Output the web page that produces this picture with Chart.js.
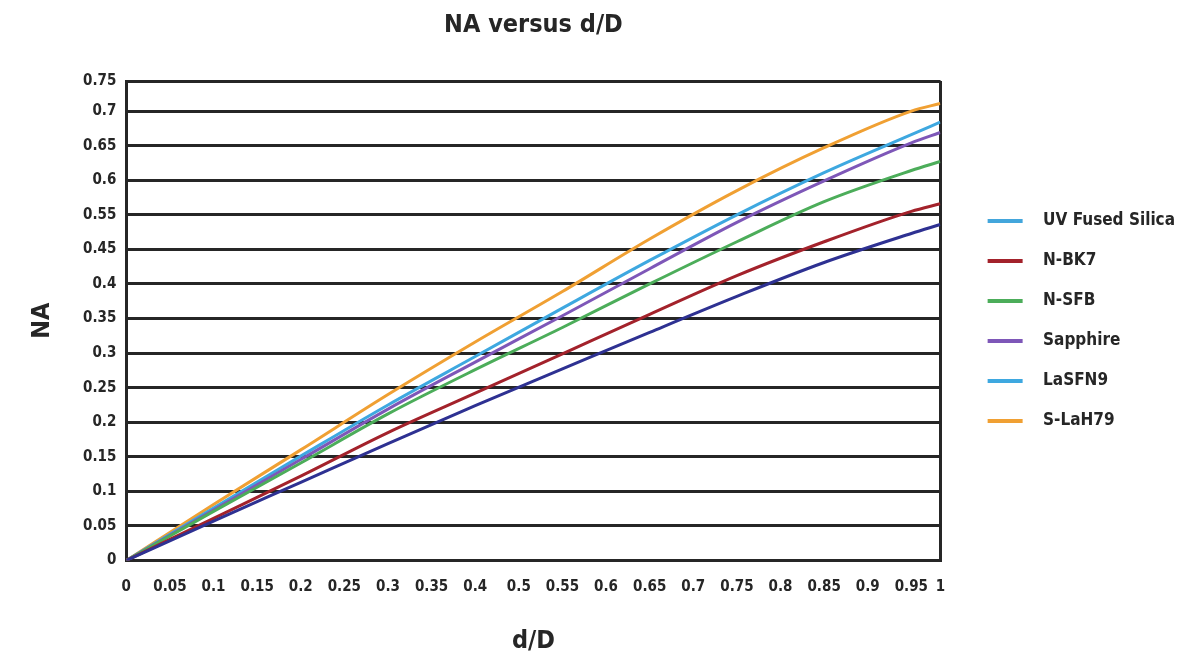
<!DOCTYPE html>
<html>
<head>
<meta charset="utf-8">
<script src="https://cdn.jsdelivr.net/npm/chart.js@4.4.1/dist/chart.umd.min.js"></script>
<style>
html,body{margin:0;padding:0;background:#ffffff;}
#wrap{width:1191px;height:659px;position:relative;}
</style>
</head>
<body>
<div id="wrap"><canvas id="c"></canvas></div>
<script>
// ---- data (axis units as drawn; tick labels as printed on the original) ----
const seriesNames = ['UV Fused Silica', 'N-BK7', 'N-SFB', 'Sapphire', 'LaSFN9', 'S-LaH79'];
const xValues      = [0, 0.1, 0.2, 0.3, 0.4, 0.5, 0.6, 0.7, 0.8, 0.9, 0.933];
const uvFusedSilica = [0, 0.057, 0.113, 0.169, 0.224, 0.277, 0.330, 0.382, 0.431, 0.473, 0.486];
const nBK7          = [0, 0.061, 0.122, 0.185, 0.242, 0.299, 0.356, 0.412, 0.461, 0.505, 0.516];
const nSFB          = [0, 0.071, 0.141, 0.212, 0.276, 0.337, 0.400, 0.461, 0.519, 0.564, 0.577];
const sapphire      = [0, 0.073, 0.146, 0.219, 0.287, 0.354, 0.422, 0.489, 0.549, 0.604, 0.619];
const laSFN9        = [0, 0.076, 0.151, 0.225, 0.295, 0.365, 0.434, 0.500, 0.561, 0.616, 0.634];
const sLaH79        = [0, 0.081, 0.160, 0.240, 0.316, 0.389, 0.465, 0.535, 0.597, 0.650, 0.661];
const xTickLabels = ['0','0.05','0.1','0.15','0.2','0.25','0.3','0.35','0.4','0.5','0.55','0.6','0.65','0.7','0.75','0.8','0.85','0.9','0.95','1'];
const yTickLabels = ['0','0.05','0.1','0.15','0.2','0.25','0.3','0.35','0.4','0.45','0.55','0.6','0.65','0.7','0.75'];

const lineColors   = ['#2e3192', '#a3222b', '#4cad5a', '#7e57b8', '#3ea8e0', '#f0a033'];
const legendColors = ['#43a6dc', '#a3222b', '#4cad5a', '#7e57b8', '#3ea8e0', '#f0a033'];
const seriesValues = [uvFusedSilica, nBK7, nSFB, sapphire, laSFN9, sLaH79];

const X_STEP = 0.05, X_MAX = 0.9335;
const Y_STEP = 0.05, Y_MAX = 0.6935;
const FONT = "'Liberation Sans Narrow','DejaVu Sans Condensed','Arial Narrow',sans-serif";
const INK = '#262626';

function legendMarker(color) {
  const cv = document.createElement('canvas');
  cv.width = 71; cv.height = 4;
  const g = cv.getContext('2d');
  g.fillStyle = color;
  g.fillRect(24, 0, 35, 4);
  return cv;
}
const markers = legendColors.map(legendMarker);

const datasets = seriesNames.map((name, i) => ({
  label: name,
  data: xValues.map((x, j) => ({x: x, y: seriesValues[i][j]})),
  borderColor: lineColors[i],
  backgroundColor: lineColors[i],
  borderWidth: 3,
  pointRadius: 0,
  fill: false,
  cubicInterpolationMode: 'monotone'
}));

new Chart(document.getElementById('c'), {
  type: 'line',
  data: { datasets },
  options: {
    responsive: true,
    maintainAspectRatio: false,
    animation: false,
    events: [],
    layout: { padding: { left: 27, right: 6, top: 8, bottom: 2.5 } },
    plugins: {
      title: {
        display: true, text: 'NA versus d/D', color: INK, fullSize: false,
        font: { family: FONT, size: 25, weight: 'bold' },
        padding: { top: 2, bottom: 41 }
      },
      legend: {
        position: 'right', align: 'center', fullSize: false,
        labels: {
          usePointStyle: true, pointStyleWidth: 71, boxHeight: 4,
          padding: 23, color: INK,
          font: { family: FONT, size: 17, weight: 'bold' },
          generateLabels: (chart) => seriesNames.map((n, i) => ({
            text: n, pointStyle: markers[i], fillStyle: legendColors[i],
            strokeStyle: legendColors[i], lineWidth: 0, datasetIndex: i, hidden: false, fontColor: INK
          }))
        }
      },
      tooltip: { enabled: false }
    },
    scales: {
      x: {
        type: 'linear', min: 0, max: X_MAX,
        afterBuildTicks: (s) => { s.ticks = xTickLabels.map((_, i) => ({ value: i < xTickLabels.length - 1 ? i * X_STEP : X_MAX })); },
        ticks: {
          autoSkip: false, maxRotation: 0, minRotation: 0, padding: 18, color: INK,
          font: { family: FONT, size: 15, weight: 'bold' },
          callback: (v, i) => xTickLabels[i]
        },
        grid: {
          drawTicks: false, lineWidth: 3,
          color: (ctx) => ctx.index === xTickLabels.length - 1 ? INK : 'rgba(0,0,0,0)'
        },
        border: { display: true, color: INK, width: 3 },
        title: {
          display: true, text: 'd/D', color: INK,
          font: { family: FONT, size: 25, weight: 'bold' },
          padding: { top: 12, bottom: 0 }
        }
      },
      y: {
        type: 'linear', min: 0, max: Y_MAX,
        afterBuildTicks: (s) => { s.ticks = yTickLabels.map((_, i) => ({ value: i < yTickLabels.length - 1 ? i * Y_STEP : Y_MAX })); },
        ticks: {
          autoSkip: false, padding: 10, color: INK,
          font: { family: FONT, size: 15, weight: 'bold' },
          callback: (v, i) => yTickLabels[i]
        },
        grid: { drawTicks: false, lineWidth: 3, color: INK },
        border: { display: true, color: INK, width: 3 },
        title: {
          display: true, text: 'NA', color: INK,
          font: { family: FONT, size: 25, weight: 'bold' },
          padding: { top: 0, bottom: 16 }
        }
      }
    }
  }
});
</script>
</body>
</html>
